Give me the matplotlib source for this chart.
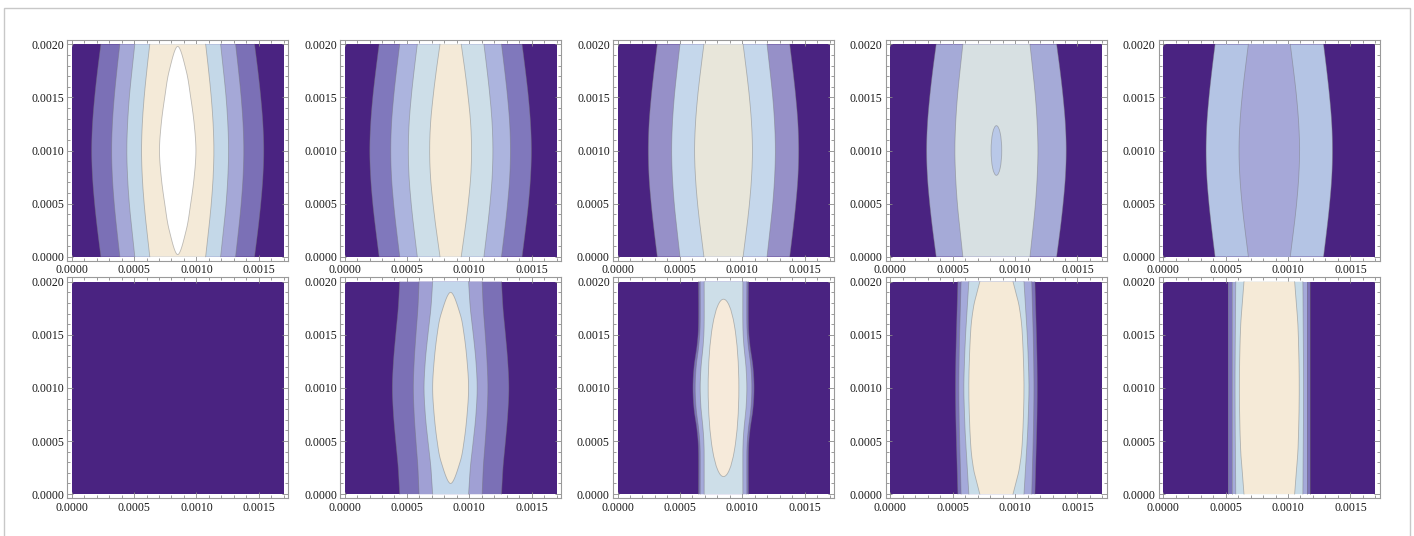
import numpy as np
import matplotlib.pyplot as plt
from matplotlib.ticker import MultipleLocator, FormatStrFormatter
from matplotlib.patches import Rectangle, Ellipse

X_MAX = 0.0017
Y_MAX = 0.002
X_MID = 0.00085
Y_MID = 0.001

DARK = '#4a2381'

# lower-half sample heights, the upper half is mirrored about y = 0.001
Y_OPEN = [0.0, 0.00025, 0.0005, 0.00075, 0.001]

# half-widths (from x = 0.00085) of each contour line, outer to inner
p1_lines = [
    (Y_OPEN, [0.000616, 0.000643, 0.000666, 0.000683, 0.000690]),
    (Y_OPEN, [0.000464, 0.000488, 0.000509, 0.000524, 0.000530]),
    (Y_OPEN, [0.000344, 0.000367, 0.000388, 0.000402, 0.000408]),
    (Y_OPEN, [0.000224, 0.000248, 0.000269, 0.000284, 0.000290]),
]
p1_closed = ([0.00002, 0.00025, 0.0005, 0.00075, 0.001],
             [0.0, 0.000068, 0.000104, 0.000132, 0.000146])
p1_colors = [DARK, '#7b70b6', '#a5a8d7', '#c4d8e8', '#f4ead8', '#ffffff']

p2_lines = [
    (Y_OPEN, [0.000573, 0.000600, 0.000624, 0.000641, 0.000648]),
    (Y_OPEN, [0.000408, 0.000434, 0.000457, 0.000474, 0.000480]),
    (Y_OPEN, [0.000267, 0.000293, 0.000316, 0.000333, 0.000339]),
    (Y_OPEN, [0.000085, 0.000115, 0.000141, 0.000161, 0.000168]),
]
p2_colors = [DARK, '#8078bc', '#acb4de', '#cddee8', '#f4ead8']

p3_lines = [
    (Y_OPEN, [0.000531, 0.000557, 0.000580, 0.000597, 0.000603]),
    (Y_OPEN, [0.000349, 0.000373, 0.000395, 0.000410, 0.000416]),
    (Y_OPEN, [0.000157, 0.000184, 0.000208, 0.000225, 0.000232]),
]
p3_colors = [DARK, '#9690c8', '#c5d7eb', '#e8e6da']

p4_lines = [
    (Y_OPEN, [0.000483, 0.000511, 0.000535, 0.000553, 0.000560]),
    (Y_OPEN, [0.000269, 0.000292, 0.000313, 0.000327, 0.000333]),
]
p4_ellipse = (0.0000854, 0.000468)   # width, height
p4_colors = [DARK, '#a5aad7', '#d7e0e2', '#b9c8e8']

p5_lines = [
    (Y_OPEN, [0.000435, 0.000461, 0.000484, 0.000501, 0.000507]),
    (Y_OPEN, [0.000168, 0.000195, 0.000219, 0.000236, 0.000243]),
]
p5_colors = [DARK, '#b4c4e4', '#a6a8d8']

p6_lines = []
p6_colors = [DARK]

p7_lines = [
    (Y_OPEN, [0.000408, 0.000420, 0.000440, 0.000458, 0.000467]),
    (Y_OPEN, [0.000253, 0.000262, 0.000278, 0.000292, 0.000299]),
    (Y_OPEN, [0.000144, 0.000158, 0.000182, 0.000203, 0.000213]),
]
p7_closed = ([0.0001, 0.0003, 0.0005, 0.00075, 0.001],
             [0.0, 0.000075, 0.000108, 0.000132, 0.000144])
p7_colors = [DARK, '#7b70b6', '#a0a0d4', '#c3d7eb', '#f4ead8']

p8_y = [0.0, 0.0004, 0.0006, 0.0008, 0.001]
p8_lines = [
    (p8_y, [0.000200, 0.000200, 0.000212, 0.000236, 0.000245]),
    (p8_y, [0.000187, 0.000187, 0.000198, 0.000219, 0.000227]),
    (p8_y, [0.000155, 0.000155, 0.000163, 0.000180, 0.000187]),
]
p8_ellipse = (0.000246, 0.00167)
p8_colors = [DARK, '#7d73b9', '#a5aada', '#cddee8', '#f6eada']

p9_lines = [
    (Y_OPEN, [0.000309, 0.000315, 0.000321, 0.000326, 0.000328]),
    (Y_OPEN, [0.000283, 0.000289, 0.000295, 0.000299, 0.000301]),
    (Y_OPEN, [0.000221, 0.000234, 0.000247, 0.000256, 0.000261]),
    ([0.0, 0.0001, 0.00025, 0.0005, 0.001],
     [0.000133, 0.000155, 0.000185, 0.000208, 0.000221]),
]
p9_colors = [DARK, '#7d73b9', '#a5aada', '#c8dce8', '#f5ead7']

p10_lines = [
    (Y_OPEN, [0.000330, 0.000330, 0.000330, 0.000330, 0.000330]),
    (Y_OPEN, [0.000301, 0.000301, 0.000301, 0.000301, 0.000301]),
    (Y_OPEN, [0.000269, 0.000271, 0.000273, 0.000274, 0.000275]),
    ([0.0, 0.00016, 0.0004, 0.0007, 0.001],
     [0.000203, 0.000213, 0.000229, 0.000237, 0.000240]),
]
p10_colors = [DARK, '#7d73b9', '#a5aada', '#c8dce8', '#f5ead7']

panels = [
    (p1_lines, p1_colors, p1_closed, None),
    (p2_lines, p2_colors, None, None),
    (p3_lines, p3_colors, None, None),
    (p4_lines, p4_colors, None, p4_ellipse),
    (p5_lines, p5_colors, None, None),
    (p6_lines, p6_colors, None, None),
    (p7_lines, p7_colors, p7_closed, None),
    (p8_lines, p8_colors, None, p8_ellipse),
    (p9_lines, p9_colors, None, None),
    (p10_lines, p10_colors, None, None),
]

LINE_C = (0.45, 0.45, 0.45, 0.45)


def catmull(pts, closed=False, n=16):
    pts = np.asarray(pts, float)
    if closed:
        P = np.vstack([pts[-1], pts, pts[0], pts[1]])
    else:
        P = np.vstack([pts[0], pts, pts[-1]])
    t = np.linspace(0, 1, n, endpoint=False)[:, None]
    out = []
    for i in range(1, len(P) - 2):
        p0, p1, p2, p3 = P[i - 1], P[i], P[i + 1], P[i + 2]
        out.append(0.5 * (2 * p1 + (-p0 + p2) * t
                          + (2 * p0 - 5 * p1 + 4 * p2 - p3) * t ** 2
                          + (-p0 + 3 * p1 - 3 * p2 + p3) * t ** 3))
    if not closed:
        out.append(P[-2][None])
    return np.vstack(out)


def mirror(ys, ws):
    ys = np.asarray(ys)
    ws = np.asarray(ws)
    y_all = np.concatenate([ys, Y_MAX - ys[::-1][1:]])
    w_all = np.concatenate([ws, ws[::-1][1:]])
    return y_all, w_all


fig = plt.figure(figsize=(14.14, 5.36), dpi=100)
fig.add_artist(Rectangle((4 / 1414, -0.1), 1406 / 1414, 1.1 - 8 / 536,
                         transform=fig.transFigure, fill=False,
                         edgecolor='#c8c8c8', lw=1.0))

W, H = 1414.0, 536.0
for k, (lines, colors, closed, ell) in enumerate(panels):
    row, col = divmod(k, 5)
    data_left = 71.7 + 272.9 * col
    data_top = 44.3 + 237.4 * row
    left = (data_left - 4.24) / W
    top = data_top - 4.25
    ax = fig.add_axes([left, 1 - (top + 220.9) / H, 220.5 / W, 220.9 / H])

    ax.add_patch(Rectangle((0, 0), X_MAX, Y_MAX, color=colors[0], lw=0, zorder=1))
    for i, (ys, ws) in enumerate(lines):
        y_all, w_all = mirror(ys, ws)
        c = catmull(np.column_stack([w_all, y_all]))
        w, y = c[:, 0], c[:, 1]
        ax.fill(np.concatenate([X_MID + w, (X_MID - w)[::-1]]),
                np.concatenate([y, y[::-1]]), color=colors[i + 1], lw=0, zorder=2)
        ax.plot(X_MID + w, y, color=LINE_C, lw=0.6, zorder=3)
        ax.plot(X_MID - w, y, color=LINE_C, lw=0.6, zorder=3)
    if closed is not None:
        y_all, w_all = mirror(*closed)
        loop = np.vstack([np.column_stack([X_MID + w_all, y_all]),
                          np.column_stack([X_MID - w_all[1:-1], y_all[1:-1]])[::-1]])
        c = catmull(loop, closed=True)
        ax.fill(c[:, 0], c[:, 1], facecolor=colors[-1], edgecolor=LINE_C,
                lw=0.6, zorder=4)
    if ell is not None:
        ax.add_patch(Ellipse((X_MID, Y_MID), ell[0], ell[1], facecolor=colors[-1],
                             edgecolor=LINE_C, lw=0.6, zorder=4))

    ax.set_xlim(-0.02 * X_MAX, 1.02 * X_MAX)
    ax.set_ylim(-0.02 * Y_MAX, 1.02 * Y_MAX)
    ax.xaxis.set_major_locator(MultipleLocator(0.0005))
    ax.xaxis.set_minor_locator(MultipleLocator(0.0001))
    ax.yaxis.set_major_locator(MultipleLocator(0.0005))
    ax.yaxis.set_minor_locator(MultipleLocator(0.0001))
    ax.xaxis.set_major_formatter(FormatStrFormatter('%.4f'))
    ax.yaxis.set_major_formatter(FormatStrFormatter('%.4f'))
    ax.tick_params(which='both', direction='in', top=True, right=True,
                   color='#8a8a8a', width=0.6, labelsize=8.5,
                   labelcolor='#1a1a1a', pad=2.5)
    ax.tick_params(which='major', length=4)
    ax.tick_params(which='minor', length=2)
    for lab in ax.get_xticklabels() + ax.get_yticklabels():
        lab.set_family(['Liberation Serif', 'DejaVu Serif'])
    for s in ax.spines.values():
        s.set_color('#9a9a9a')
        s.set_linewidth(0.8)

fig.savefig('out.png', dpi=100)
